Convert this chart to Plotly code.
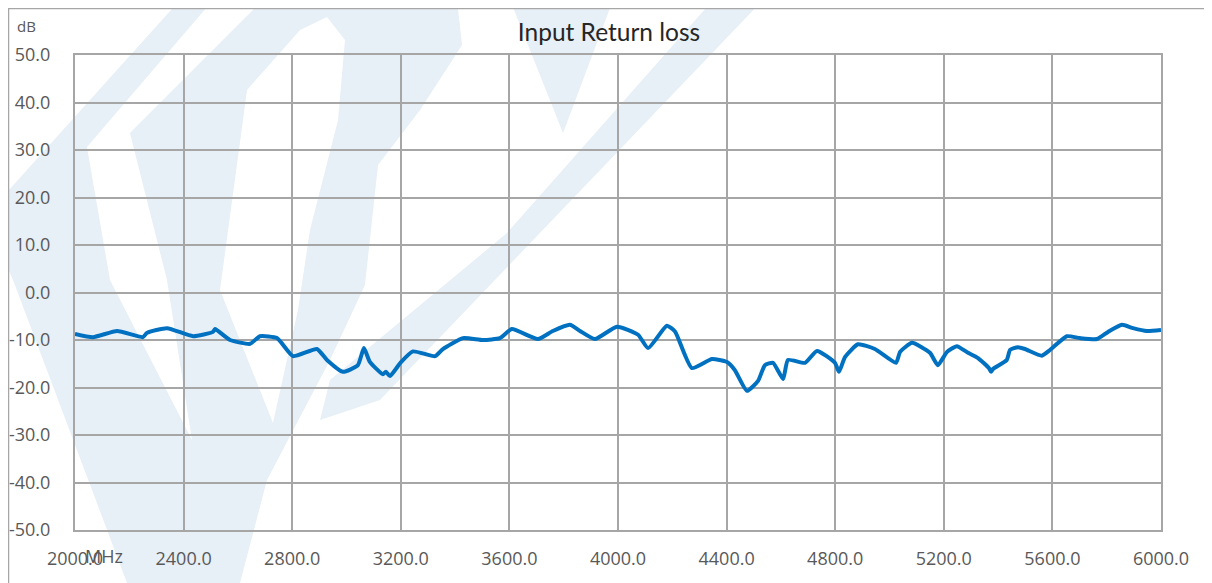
import plotly.graph_objects as go

# frequência (MHz) e perda de retorno (dB)
freq = [2000, 2066, 2155, 2250, 2265, 2339, 2435, 2508, 2516, 2571, 2645, 2681, 2744,
        2803, 2891, 2928, 2987, 3042, 3064, 3086, 3134, 3145, 3160, 3200, 3245, 3326,
        3355, 3429, 3503, 3565, 3609, 3705, 3760, 3823, 3860, 3915, 3996, 4074, 4111,
        4180, 4210, 4272, 4346, 4400, 4430, 4475, 4516, 4541, 4571, 4608, 4626, 4689,
        4733, 4799, 4814, 4836, 4884, 4946, 5024, 5039, 5083, 5149, 5178, 5212, 5248,
        5289, 5326, 5366, 5374, 5381, 5432, 5444, 5473, 5499, 5561, 5591, 5653, 5701,
        5764, 5805, 5856, 5897, 5948, 6000]
rl = [-8.7, -9.4, -8.1, -9.4, -8.5, -7.5, -9.2, -8.3, -7.7, -10.0, -10.8, -9.2, -9.6,
      -13.4, -11.9, -14.2, -16.7, -15.3, -11.7, -14.6, -17.2, -16.7, -17.6, -14.7, -12.4, -13.4,
      -11.9, -9.6, -10.0, -9.6, -7.7, -9.8, -8.1, -6.8, -8.1, -9.8, -7.2, -8.9, -11.7,
      -7.0, -8.2, -15.9, -14.0, -14.6, -16.3, -20.7, -18.6, -15.3, -14.8, -18.2, -14.2, -14.8,
      -12.3, -14.8, -16.7, -13.6, -10.9, -11.9, -14.8, -12.5, -10.6, -12.7, -15.3, -12.5, -11.3,
      -12.7, -13.8, -15.9, -16.7, -16.1, -14.2, -12.1, -11.5, -11.9, -13.3, -12.1, -9.2, -9.6,
      -9.8, -8.3, -6.8, -7.5, -8.1, -7.9]

x_ticks = [2000, 2400, 2800, 3200, 3600, 4000, 4400, 4800, 5200, 5600, 6000]
y_ticks = [50, 40, 30, 20, 10, 0, -10, -20, -30, -40, -50]

# a página tem 8px de margem no body, então a figura é desenhada deslocada
OFF = 8
W, H = 1212 - OFF, 583 - OFF
L, T = 75 - OFF, 55 - OFF
R, B = W - (1161 - OFF), H - (530 - OFF)
pw, ph = W - L - R, H - T - B


def px(x, y):
    # pixel da imagem de referência -> coordenada paper
    return (x - OFF - L) / pw, (H - B - (y - OFF)) / ph


def path(pts):
    p = [px(a, b) for a, b in pts]
    return "M " + " L ".join(f"{a:.4f},{b:.4f}" for a, b in p) + " Z"


# marca d'água (logo azul claro ao fundo): áreas claras e furos brancos
claro = [
    [(180, 0), (457, 0), (462, 45), (420, 110), (378, 165), (365, 285), (330, 360),
     (267, 480), (240, 583), (127, 583), (13, 280), (0, 250), (0, 200)],
    [(510, 0), (613, 0), (563, 133)],
    [(713, 0), (763, 0), (380, 400), (320, 420), (330, 380), (507, 233)],
]
branco = [
    [(213, 0), (263, 0), (130, 133), (167, 280), (192, 440), (110, 280), (87, 147)],
    [(247, 90), (300, 30), (327, 17), (345, 40), (338, 120), (310, 230), (298, 310),
     (273, 423), (220, 290)],
]

shapes = [dict(type="path", xref="paper", yref="paper", path=path(m),
               fillcolor="#e7eff7", line_width=0, layer="below") for m in claro]
shapes += [dict(type="path", xref="paper", yref="paper", path=path(m),
                fillcolor="white", line_width=0, layer="below") for m in branco]

# moldura externa
x0, y0 = px(8.5, 8.5)
x1, y1 = px(1205, 600)
shapes.append(dict(type="rect", xref="paper", yref="paper", x0=x0, y0=y1, x1=x1, y1=y0,
                   line=dict(color="#a6a6a6", width=1.5), layer="below"))

fig = go.Figure()
fig.add_trace(go.Scatter(
    x=freq, y=rl, mode="lines",
    line=dict(color="#0070c0", width=4, shape="spline", smoothing=0.5),
    hovertemplate="%{x} MHz<br>%{y:.1f} dB<extra></extra>"
))

fonte = "Open Sans, DejaVu Sans, sans-serif"
fig.update_layout(
    width=W, height=H,
    margin=dict(l=L, r=R, t=T, b=B),
    paper_bgcolor="white",
    plot_bgcolor="rgba(0,0,0,0)",
    showlegend=False,
    title=dict(text="Input Return loss", x=px(609, 0)[0], xref="paper", xanchor="center",
               y=1 - (32 - OFF) / H, yanchor="middle",
               font=dict(family="Lato, Open Sans, sans-serif", size=24.5, color="#262626")),
    shapes=shapes,
    xaxis=dict(range=[2000, 6000], tickvals=x_ticks, ticktext=[f"{v:.1f}" for v in x_ticks],
               showgrid=True, gridcolor="#a6a6a6", gridwidth=2, zeroline=False,
               showline=True, linecolor="#a6a6a6", linewidth=2, mirror=True,
               ticks="", ticklabelstandoff=11, automargin=False,
               tickfont=dict(family=fonte, size=18, color="#595959")),
    yaxis=dict(range=[-50, 50], tickvals=y_ticks, ticktext=[f"{v:.1f}" for v in y_ticks],
               showgrid=True, gridcolor="#a6a6a6", gridwidth=2, zeroline=False,
               showline=True, linecolor="#a6a6a6", linewidth=2, mirror=True,
               ticks="", ticklabelstandoff=19, automargin=False,
               tickfont=dict(family=fonte, size=18, color="#595959")),
    annotations=[
        dict(text="dB", xref="paper", yref="paper", x=px(15, 0)[0], y=px(0, 26)[1],
             xanchor="left", yanchor="middle", showarrow=False,
             font=dict(family=fonte, size=15, color="#595959")),
        dict(text="MHz", xref="paper", yref="paper", x=px(104, 0)[0], y=px(0, 556)[1],
             xanchor="center", yanchor="middle", showarrow=False,
             font=dict(family=fonte, size=18, color="#595959")),
    ],
)

fig.write_html("out.html")
